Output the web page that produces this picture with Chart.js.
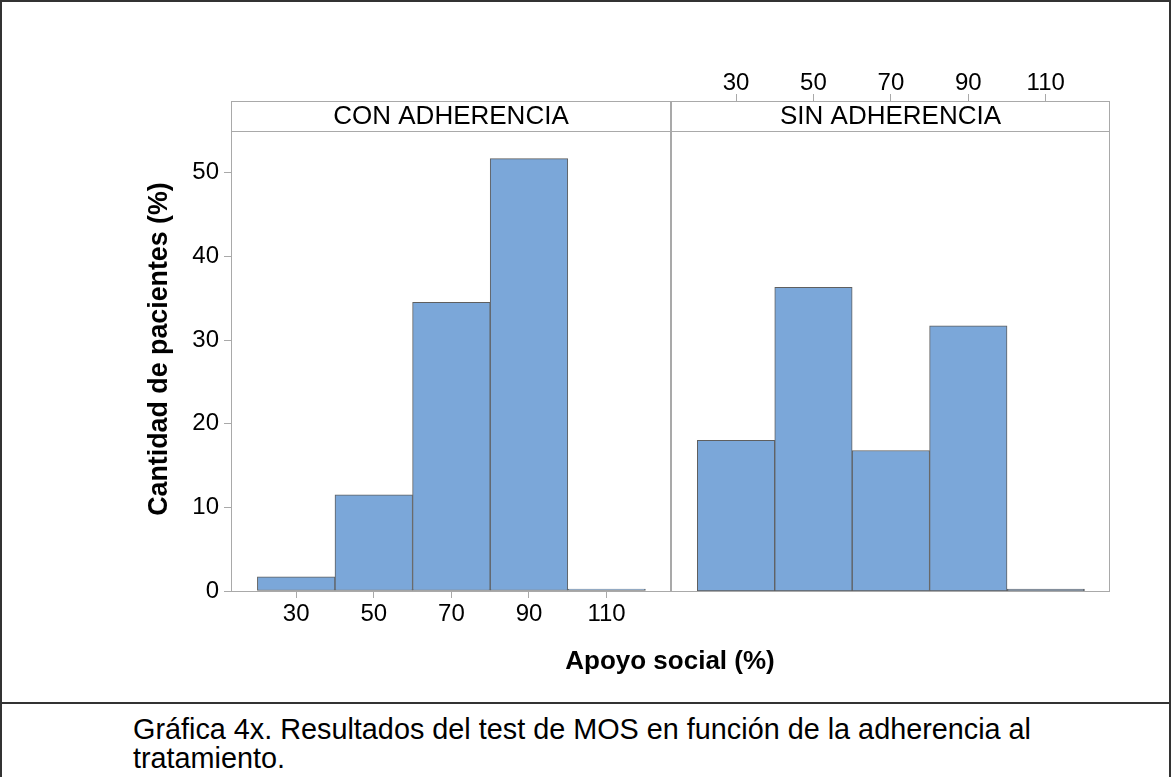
<!DOCTYPE html>
<html>
<head>
<meta charset="utf-8">
<script src="https://cdn.jsdelivr.net/npm/chart.js@4/dist/chart.umd.min.js"></script>
<style>
  body { margin: 0; background: #fff; width: 1172px; height: 777px; overflow: hidden; position: relative; font-family: "Liberation Sans", Arial, sans-serif; }
  canvas { position: absolute; top: 0; }
  #frame { position: absolute; left: 0; top: 0; width: 1171px; height: 800px; border: 2px solid #333; box-sizing: border-box; }
  #rule { position: absolute; left: 0; top: 702px; width: 1171px; height: 2px; background: #333; }
  #xtitle { position: absolute; left: 470px; top: 645px; width: 400px; text-align: center; font-weight: bold; font-size: 26px; line-height: 30px; color: #000; }
  #ytitle { position: absolute; left: -42px; top: 334px; width: 400px; height: 30px; text-align: center; font-weight: bold; font-size: 26.8px; line-height: 30px; color: #000; transform: rotate(-90deg); white-space: nowrap; }
  #caption { position: absolute; left: 133px; top: 715px; font-size: 28.8px; line-height: 29px; color: #000; white-space: nowrap; }
</style>
</head>
<body>
<div id="frame"></div>
<div id="rule"></div>
<canvas id="left" width="671" height="700" style="left:0"></canvas>
<canvas id="right" width="501" height="700" style="left:671px"></canvas>
<div id="xtitle">Apoyo social (%)</div>
<div id="ytitle">Cantidad de pacientes (%)</div>
<div id="caption">Gráfica 4x. Resultados del test de MOS en función de la adherencia al<br>tratamiento.</div>
<script>
// histogram bins (midpoints) and percentages
var binMid = [30, 50, 70, 90, 110];
var conAdherencia = [1.7, 11.5, 34.5, 51.7, 0];
var sinAdherencia = [18.0, 36.3, 16.8, 31.7, 0];
var panelNames = ['CON ADHERENCIA', 'SIN ADHERENCIA'];
var xTicks = [30, 50, 70, 90, 110];
var yTicks = [0, 10, 20, 30, 40, 50];

var font = 'Liberation Sans, Arial, sans-serif';
var frameColor = '#a9a9a9';

// draws the panel box and the strip with the group name
var panelFrame = {
  id: 'panelFrame',
  afterDraw: function(chart, args, opts) {
    var ctx = chart.ctx;
    var a = chart.chartArea;
    ctx.save();
    ctx.fillStyle = '#fff';
    ctx.fillRect(a.left, 101, a.right - a.left, 30);
    ctx.strokeStyle = frameColor;
    ctx.lineWidth = 1;
    ctx.strokeRect(a.left + 0.5, 101.5, a.right - a.left - 1, 30);
    ctx.strokeRect(a.left + 0.5, a.top + 0.5, a.right - a.left - 1, a.bottom - a.top);
    ctx.fillStyle = '#000';
    ctx.font = '26px ' + font;
    ctx.textAlign = 'center';
    ctx.textBaseline = 'middle';
    ctx.fillText(opts.label, (a.left + a.right) / 2, 117);
    ctx.restore();
  }
};

function points(vals) {
  return binMid.map(function(x, i) { return { x: x, y: vals[i] }; });
}

function makeChart(id, vals, label, side) {
  var isLeft = side === 'left';
  var ctx = document.getElementById(id).getContext('2d');
  return new Chart(ctx, {
    type: 'bar',
    data: {
      datasets: [{
        data: points(vals),
        backgroundColor: '#7ba7d9',
        borderColor: '#5f5f5f',
        borderWidth: 1,
        borderSkipped: false,
        minBarLength: 2,
        barPercentage: 1,
        categoryPercentage: 1
      }]
    },
    options: {
      responsive: false,
      animation: false,
      layout: { padding: isLeft ? { top: 131, left: 0, right: 0, bottom: 0 } : { top: 0, left: 0, right: 62, bottom: 109 } },
      plugins: { legend: { display: false }, tooltip: { enabled: false }, panelFrame: { label: label } },
      scales: {
        x: {
          type: 'linear',
          position: isLeft ? 'bottom' : 'top',
          offset: false,
          min: 13.2,
          max: 126.6,
          afterBuildTicks: function(s) { s.ticks = xTicks.map(function(v) { return { value: v }; }); },
          afterFit: function(s) { s.height = isLeft ? 109 : 131; },
          border: { display: false },
          grid: { offset: false, drawOnChartArea: false, color: frameColor, tickLength: isLeft ? 7 : 37 },
          ticks: { color: '#000', font: { family: font, size: 24 }, padding: isLeft ? 2 : -4, maxRotation: 0 }
        },
        y: {
          display: isLeft,
          min: 0,
          max: 55,
          afterBuildTicks: function(s) { s.ticks = yTicks.map(function(v) { return { value: v }; }); },
          afterFit: function(s) { s.width = isLeft ? 231 : 0; },
          border: { display: false },
          grid: { drawOnChartArea: false, color: frameColor, tickLength: 7 },
          ticks: { color: '#000', font: { family: font, size: 24 }, padding: 5 }
        }
      }
    },
    plugins: [panelFrame]
  });
}

makeChart('left', conAdherencia, panelNames[0], 'left');
makeChart('right', sinAdherencia, panelNames[1], 'right');
</script>
</body>
</html>
